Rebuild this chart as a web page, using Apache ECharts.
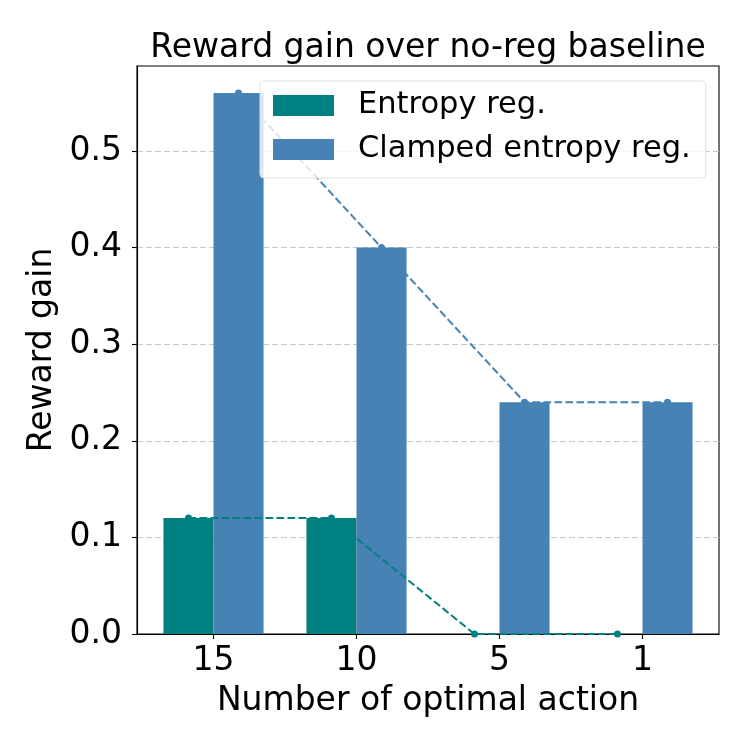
<!DOCTYPE html>
<html>
<head>
<meta charset="utf-8">
<script src="https://cdn.jsdelivr.net/npm/echarts@6/dist/echarts.min.js"></script>
<style>html,body{margin:0;padding:0;background:#fff}#c{width:750px;height:750px}</style>
</head>
<body>
<div id="c"></div>
<script>
var categories = ['15', '10', '5', '1'];
var entropyReg = [0.12, 0.12, 0.0, 0.0];
var clampedReg = [0.56, 0.40, 0.24, 0.24];
var yTicks = [0.0, 0.1, 0.2, 0.3, 0.4, 0.5];

var FONT = 'DejaVu Sans';
var TEAL = '#008080', BLUE = '#4682b4';
var gridL = 137, gridR = 31, gridT = 66, gridB = 116;
var xMin = -0.535, xMax = 3.535, yMax = 0.588;
var half = 0.175; // half bar width in axis units
var barPx = (2 * half) * (750 - gridL - gridR) / (xMax - xMin);

function pts(vals, off) { return vals.map(function (v, i) { return [i + off, v]; }); }

var chart = echarts.init(document.getElementById('c'), null, {renderer: 'canvas'});
chart.setOption({
  animation: false,
  backgroundColor: '#fff',
  title: {
    text: 'Reward gain over no-reg baseline',
    left: 428, top: 32, textAlign: 'center', padding: 0,
    textStyle: {fontFamily: FONT, fontSize: 33, fontWeight: 'normal', color: '#000'}
  },
  legend: {
    data: ['Entropy reg.', 'Clamped entropy reg.'],
    orient: 'vertical', left: 260, top: 81,
    padding: [9, 15, 13, 13],
    itemWidth: 61, itemHeight: 21, itemGap: 13,
    icon: 'rect',
    backgroundColor: 'rgba(255,255,255,0.8)',
    borderColor: '#e3e3e3', borderWidth: 1, borderRadius: 4,
    textStyle: {fontFamily: FONT, fontSize: 30.5, color: '#000', padding: [0, 0, 0, 19]}
  },
  grid: {
    left: gridL, right: gridR, top: gridT, bottom: gridB,
    show: true, borderColor: '#000', borderWidth: 1.1, backgroundColor: 'transparent'
  },
  xAxis: {
    type: 'value', min: xMin, max: xMax,
    name: 'Number of optimal action', nameLocation: 'middle', nameGap: 51,
    nameTextStyle: {fontFamily: FONT, fontSize: 33, color: '#000'},
    axisLine: {show: true, onZero: false, lineStyle: {color: '#000', width: 1.1}},
    axisTick: {show: true, length: 5, lineStyle: {color: '#000', width: 1.1}, customValues: [0, 1, 2, 3]},
    axisLabel: {
      fontFamily: FONT, fontSize: 33, color: '#000', margin: 11,
      customValues: [0, 1, 2, 3],
      formatter: function (v) { return categories[Math.round(v)]; }
    },
    splitLine: {show: false}
  },
  yAxis: {
    type: 'value', min: 0, max: yMax, interval: 0.1,
    name: 'Reward gain', nameLocation: 'middle', nameGap: 75,
    nameTextStyle: {fontFamily: FONT, fontSize: 33, color: '#000'},
    axisLine: {show: true, onZero: false, lineStyle: {color: '#000', width: 1.1}},
    axisTick: {show: true, length: 5, lineStyle: {color: '#000', width: 1.1}, customValues: yTicks},
    axisLabel: {
      fontFamily: FONT, fontSize: 33, color: '#000', margin: 15,
      customValues: yTicks,
      formatter: function (v) { return v.toFixed(1); }
    },
    splitLine: {show: true, lineStyle: {color: '#c8c8c8', width: 1, type: [6, 3]}}
  },
  series: [
    {name: 'Entropy reg.', type: 'bar', data: pts(entropyReg, -half), barWidth: barPx, barGap: '-100%',
     itemStyle: {color: TEAL}, z: 2},
    {name: 'Clamped entropy reg.', type: 'bar', data: pts(clampedReg, half), barWidth: barPx, barGap: '-100%',
     itemStyle: {color: BLUE}, z: 2},
    {name: 'Entropy reg. trend', type: 'line', data: pts(entropyReg, -half), symbol: 'circle', symbolSize: 7,
     itemStyle: {color: TEAL}, lineStyle: {color: TEAL, width: 2, type: [7.7, 3.3]}, z: 3},
    {name: 'Clamped entropy reg. trend', type: 'line', data: pts(clampedReg, half), symbol: 'circle', symbolSize: 7,
     itemStyle: {color: BLUE}, lineStyle: {color: BLUE, width: 2, type: [7.7, 3.3]}, z: 3}
  ]
});
</script>
</body>
</html>
